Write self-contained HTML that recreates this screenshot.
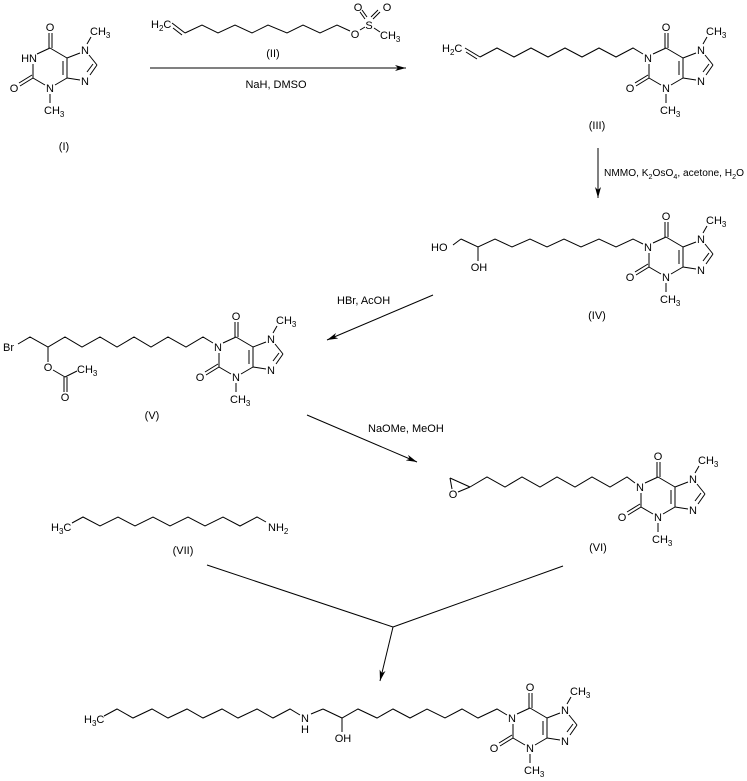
<!DOCTYPE html>
<html><head><meta charset="utf-8"><style>
html,body{margin:0;padding:0;background:#fff;}
svg{display:block;font-family:"Liberation Sans",Arial,sans-serif;}
text{font-size:11px;fill:#000;}
.m{text-anchor:middle;}
line,polyline{stroke:#000;stroke-width:1;fill:none;}
</style></head><body>
<svg width="747" height="781" viewBox="0 0 747 781" xmlns="http://www.w3.org/2000/svg">
<defs>
<marker id="ah" markerWidth="12" markerHeight="8" refX="11" refY="4" orient="auto" markerUnits="userSpaceOnUse">
<path d="M0,1 L11,4 L0,7 L3,4 Z" fill="#000"/>
</marker>
</defs>

<!-- (I) -->
<g transform="translate(32,58)">
<line x1="5" y1="-4" x2="18" y2="-10"/><line x1="18" y1="-10" x2="35" y2="0"/>
<line x1="35" y1="0" x2="35" y2="20"/><line x1="31" y1="3" x2="31" y2="17"/>
<line x1="35" y1="20" x2="23" y2="27"/><line x1="13" y1="27" x2="1" y2="20"/>
<line x1="1" y1="20" x2="1" y2="6"/>
<line x1="17" y1="-10" x2="17" y2="-25"/><line x1="20" y1="-10" x2="20" y2="-25"/>
<line x1="1" y1="20" x2="-12" y2="28"/><line x1="0" y1="17" x2="-13" y2="25"/>
<line x1="35" y1="0" x2="48" y2="-5"/><line x1="57" y1="-3" x2="65" y2="7"/>
<line x1="65" y1="7" x2="58" y2="17"/><line x1="61" y1="6" x2="55" y2="14"/>
<line x1="48" y1="22" x2="35" y2="20"/><line x1="55" y1="-14" x2="59" y2="-21"/>
<line x1="18" y1="36" x2="18" y2="45"/>
<text x="5" y="4" text-anchor="end">HN</text>
<text class="m" x="18" y="-27">O</text><text class="m" x="53" y="-4">N</text><text class="m" x="53" y="27">N</text>
<text class="m" x="-18" y="34">O</text><text class="m" x="18" y="34">N</text>
<text x="58" y="-23">CH<tspan font-size="8" dy="3">3</tspan></text>
<text x="12" y="56">CH<tspan font-size="8" dy="3">3</tspan></text>
</g>
<text class="m" x="64" y="150">(I)</text>

<!-- (II) -->
<text x="151" y="28">H<tspan font-size="8" dy="3">2</tspan><tspan dy="-3">C</tspan></text>
<line x1="172" y1="23" x2="185" y2="33"/><line x1="173" y1="28" x2="182" y2="35"/>
<polyline points="185,33 202,25 218,33 235,25 252,33 268,25 287,33 303,25 320,33 337,25 350,31"/>
<text class="m" x="355" y="38">O</text><line x1="360" y1="30" x2="365" y2="27"/>
<text class="m" x="369" y="29">S</text>
<line x1="365" y1="19" x2="360" y2="12"/><line x1="367" y1="17" x2="362" y2="10"/>
<line x1="373" y1="19" x2="380" y2="12"/><line x1="371" y1="17" x2="378" y2="10"/>
<text class="m" x="358" y="11">O</text><text class="m" x="387" y="11">O</text>
<line x1="374" y1="28" x2="380" y2="32"/>
<text x="380" y="39">CH<tspan font-size="8" dy="3">3</tspan></text>
<text class="m" x="273" y="57">(II)</text>
<line x1="150" y1="68" x2="406" y2="68" marker-end="url(#ah)"/>
<text class="m" x="276" y="88">NaH, DMSO</text>

<!-- (III) -->
<text x="442" y="52">H<tspan font-size="8" dy="3">2</tspan><tspan dy="-3">C</tspan></text>
<line x1="465" y1="48" x2="480" y2="57"/><line x1="466" y1="52" x2="477" y2="59"/>
<polyline points="480,57 497,48 514,57 531,48 548,57 565,48 582,57 599,48 616,57 633,48 643,54"/>
<g transform="translate(648,58)">
<line x1="18" y1="-10" x2="35" y2="0"/><line x1="5" y1="-4" x2="18" y2="-10"/>
<line x1="35" y1="0" x2="35" y2="20"/><line x1="31" y1="3" x2="31" y2="17"/>
<line x1="35" y1="20" x2="23" y2="27"/><line x1="13" y1="27" x2="1" y2="20"/>
<line x1="1" y1="20" x2="1" y2="6"/>
<line x1="17" y1="-10" x2="17" y2="-25"/><line x1="20" y1="-10" x2="20" y2="-25"/>
<line x1="1" y1="20" x2="-12" y2="28"/><line x1="0" y1="17" x2="-13" y2="25"/>
<line x1="35" y1="0" x2="48" y2="-5"/><line x1="57" y1="-3" x2="65" y2="7"/>
<line x1="65" y1="7" x2="58" y2="17"/><line x1="61" y1="6" x2="55" y2="14"/>
<line x1="48" y1="22" x2="35" y2="20"/><line x1="55" y1="-14" x2="59" y2="-21"/>
<line x1="18" y1="36" x2="18" y2="45"/>
<text class="m" x="0" y="4">N</text>
<text class="m" x="18" y="-27">O</text><text class="m" x="53" y="-4">N</text><text class="m" x="53" y="27">N</text>
<text class="m" x="-18" y="34">O</text><text class="m" x="18" y="34">N</text>
<text x="58" y="-23">CH<tspan font-size="8" dy="3">3</tspan></text>
<text x="12" y="56">CH<tspan font-size="8" dy="3">3</tspan></text>
</g>
<text class="m" x="597" y="129">(III)</text>
<line x1="598" y1="148" x2="598" y2="198" marker-end="url(#ah)"/>
<text x="604" y="176" font-size="10" textLength="140" lengthAdjust="spacingAndGlyphs" style="font-size:10px">NMMO, K<tspan font-size="7" dy="3">2</tspan><tspan dy="-3">OsO</tspan><tspan font-size="7" dy="3">4</tspan><tspan dy="-3">, acetone, H</tspan><tspan font-size="7" dy="3">2</tspan><tspan dy="-3">O</tspan></text>

<!-- (IV) -->
<text x="431" y="251">HO</text>
<line x1="453" y1="245" x2="461" y2="239"/>
<polyline points="461,239 478,247 495,239 512,247 530,239 547,247 564,239 581,247 599,239 616,247 633,239 643,244"/>
<line x1="478" y1="247" x2="478" y2="261"/>
<text class="m" x="479" y="271">OH</text>
<g transform="translate(648,247)">
<line x1="18" y1="-10" x2="35" y2="0"/><line x1="5" y1="-4" x2="18" y2="-10"/>
<line x1="35" y1="0" x2="35" y2="20"/><line x1="31" y1="3" x2="31" y2="17"/>
<line x1="35" y1="20" x2="23" y2="27"/><line x1="13" y1="27" x2="1" y2="20"/>
<line x1="1" y1="20" x2="1" y2="6"/>
<line x1="17" y1="-10" x2="17" y2="-25"/><line x1="20" y1="-10" x2="20" y2="-25"/>
<line x1="1" y1="20" x2="-12" y2="28"/><line x1="0" y1="17" x2="-13" y2="25"/>
<line x1="35" y1="0" x2="48" y2="-5"/><line x1="57" y1="-3" x2="65" y2="7"/>
<line x1="65" y1="7" x2="58" y2="17"/><line x1="61" y1="6" x2="55" y2="14"/>
<line x1="48" y1="22" x2="35" y2="20"/><line x1="55" y1="-14" x2="59" y2="-21"/>
<line x1="18" y1="36" x2="18" y2="45"/>
<text class="m" x="0" y="4">N</text>
<text class="m" x="18" y="-27">O</text><text class="m" x="53" y="-4">N</text><text class="m" x="53" y="27">N</text>
<text class="m" x="-18" y="34">O</text><text class="m" x="18" y="34">N</text>
<text x="58" y="-23">CH<tspan font-size="8" dy="3">3</tspan></text>
<text x="12" y="56">CH<tspan font-size="8" dy="3">3</tspan></text>
</g>
<text class="m" x="597" y="319">(IV)</text>

<line x1="433" y1="295" x2="327" y2="340" marker-end="url(#ah)"/>
<text x="337" y="304">HBr, AcOH</text>

<!-- (V) -->
<text x="3" y="351">Br</text>
<polyline points="18,344 30,337 48,347 65,337 82,347 100,337 117,347 134,337 151,347 168,337 186,347 203,337 213,343"/>
<line x1="48" y1="347" x2="48" y2="362"/>
<text class="m" x="48" y="371">O</text>
<line x1="53" y1="370" x2="65" y2="377"/>
<line x1="65" y1="377" x2="77" y2="371"/>
<text x="77" y="373">CH<tspan font-size="8" dy="3">3</tspan></text>
<line x1="64" y1="377" x2="64" y2="392"/><line x1="67" y1="377" x2="67" y2="392"/>
<text class="m" x="65" y="401">O</text>
<g transform="translate(218,347)">
<line x1="18" y1="-10" x2="35" y2="0"/><line x1="5" y1="-4" x2="18" y2="-10"/>
<line x1="35" y1="0" x2="35" y2="20"/><line x1="31" y1="3" x2="31" y2="17"/>
<line x1="35" y1="20" x2="23" y2="27"/><line x1="13" y1="27" x2="1" y2="20"/>
<line x1="1" y1="20" x2="1" y2="6"/>
<line x1="17" y1="-10" x2="17" y2="-25"/><line x1="20" y1="-10" x2="20" y2="-25"/>
<line x1="1" y1="20" x2="-12" y2="28"/><line x1="0" y1="17" x2="-13" y2="25"/>
<line x1="35" y1="0" x2="48" y2="-5"/><line x1="57" y1="-3" x2="65" y2="7"/>
<line x1="65" y1="7" x2="58" y2="17"/><line x1="61" y1="6" x2="55" y2="14"/>
<line x1="48" y1="22" x2="35" y2="20"/><line x1="55" y1="-14" x2="59" y2="-21"/>
<line x1="18" y1="36" x2="18" y2="45"/>
<text class="m" x="0" y="4">N</text>
<text class="m" x="18" y="-27">O</text><text class="m" x="53" y="-4">N</text><text class="m" x="53" y="27">N</text>
<text class="m" x="-18" y="34">O</text><text class="m" x="18" y="34">N</text>
<text x="58" y="-23">CH<tspan font-size="8" dy="3">3</tspan></text>
<text x="12" y="56">CH<tspan font-size="8" dy="3">3</tspan></text>
</g>
<text class="m" x="152" y="419">(V)</text>

<line x1="307" y1="415" x2="417" y2="462" marker-end="url(#ah)"/>
<text x="368" y="432">NaOMe, MeOH</text>

<!-- (VI) -->
<line x1="450" y1="478" x2="470" y2="487"/>
<line x1="450" y1="478" x2="452" y2="489"/>
<line x1="470" y1="487" x2="458" y2="492"/>
<text class="m" x="453" y="498">O</text>
<polyline points="470,487 487,477 505,487 522,477 540,487 557,477 575,487 592,477 610,487 627,477 635,483"/>
<g transform="translate(640,487)">
<line x1="18" y1="-10" x2="35" y2="0"/><line x1="5" y1="-4" x2="18" y2="-10"/>
<line x1="35" y1="0" x2="35" y2="20"/><line x1="31" y1="3" x2="31" y2="17"/>
<line x1="35" y1="20" x2="23" y2="27"/><line x1="13" y1="27" x2="1" y2="20"/>
<line x1="1" y1="20" x2="1" y2="6"/>
<line x1="17" y1="-10" x2="17" y2="-25"/><line x1="20" y1="-10" x2="20" y2="-25"/>
<line x1="1" y1="20" x2="-12" y2="28"/><line x1="0" y1="17" x2="-13" y2="25"/>
<line x1="35" y1="0" x2="48" y2="-5"/><line x1="57" y1="-3" x2="65" y2="7"/>
<line x1="65" y1="7" x2="58" y2="17"/><line x1="61" y1="6" x2="55" y2="14"/>
<line x1="48" y1="22" x2="35" y2="20"/><line x1="55" y1="-14" x2="59" y2="-21"/>
<line x1="18" y1="36" x2="18" y2="45"/>
<text class="m" x="0" y="4">N</text>
<text class="m" x="18" y="-27">O</text><text class="m" x="53" y="-4">N</text><text class="m" x="53" y="27">N</text>
<text class="m" x="-18" y="34">O</text><text class="m" x="18" y="34">N</text>
<text x="58" y="-23">CH<tspan font-size="8" dy="3">3</tspan></text>
<text x="12" y="56">CH<tspan font-size="8" dy="3">3</tspan></text>
</g>
<text class="m" x="598" y="551">(VI)</text>

<!-- (VII) -->
<text x="51" y="531">H<tspan font-size="8" dy="3">3</tspan><tspan dy="-3">C</tspan></text>
<polyline points="72,523 83,517 100,526 118,517 135,526 153,517 170,526 188,517 205,526 223,517 240,526 257,517 266,522"/>
<text x="268" y="531">NH<tspan font-size="8" dy="3">2</tspan></text>
<text class="m" x="183" y="554">(VII)</text>

<!-- converging arrows -->
<line x1="207" y1="565" x2="393" y2="627"/>
<line x1="563" y1="566" x2="393" y2="627"/>
<line x1="393" y1="627" x2="380" y2="681" marker-end="url(#ah)"/>

<!-- final product -->
<text x="84" y="723">H<tspan font-size="8" dy="3">3</tspan><tspan dy="-3">C</tspan></text>
<polyline points="104,716 117,709 133,718 152,709 168,718 187,709 203,718 222,709 238,718 257,709 273,718 290,709 300,715"/>
<text class="m" x="305" y="722">N</text>
<text class="m" x="305" y="733">H</text>
<line x1="311" y1="714" x2="323" y2="709"/>
<polyline points="323,709 342,718 358,709 377,718 393,709 410,718 427,709 445,718 462,709 478,718 497,709 507,715"/>
<line x1="342" y1="718" x2="342" y2="732"/>
<text class="m" x="343" y="742">OH</text>
<g transform="translate(512,718)">
<line x1="18" y1="-10" x2="35" y2="0"/><line x1="5" y1="-4" x2="18" y2="-10"/>
<line x1="35" y1="0" x2="35" y2="20"/><line x1="31" y1="3" x2="31" y2="17"/>
<line x1="35" y1="20" x2="23" y2="27"/><line x1="13" y1="27" x2="1" y2="20"/>
<line x1="1" y1="20" x2="1" y2="6"/>
<line x1="17" y1="-10" x2="17" y2="-25"/><line x1="20" y1="-10" x2="20" y2="-25"/>
<line x1="1" y1="20" x2="-12" y2="28"/><line x1="0" y1="17" x2="-13" y2="25"/>
<line x1="35" y1="0" x2="48" y2="-5"/><line x1="57" y1="-3" x2="65" y2="7"/>
<line x1="65" y1="7" x2="58" y2="17"/><line x1="61" y1="6" x2="55" y2="14"/>
<line x1="48" y1="22" x2="35" y2="20"/><line x1="55" y1="-14" x2="59" y2="-21"/>
<line x1="18" y1="36" x2="18" y2="45"/>
<text class="m" x="0" y="4">N</text>
<text class="m" x="18" y="-27">O</text><text class="m" x="53" y="-4">N</text><text class="m" x="53" y="27">N</text>
<text class="m" x="-18" y="34">O</text><text class="m" x="18" y="34">N</text>
<text x="58" y="-23">CH<tspan font-size="8" dy="3">3</tspan></text>
<text x="12" y="56">CH<tspan font-size="8" dy="3">3</tspan></text>
</g>
</svg>
</body></html>
